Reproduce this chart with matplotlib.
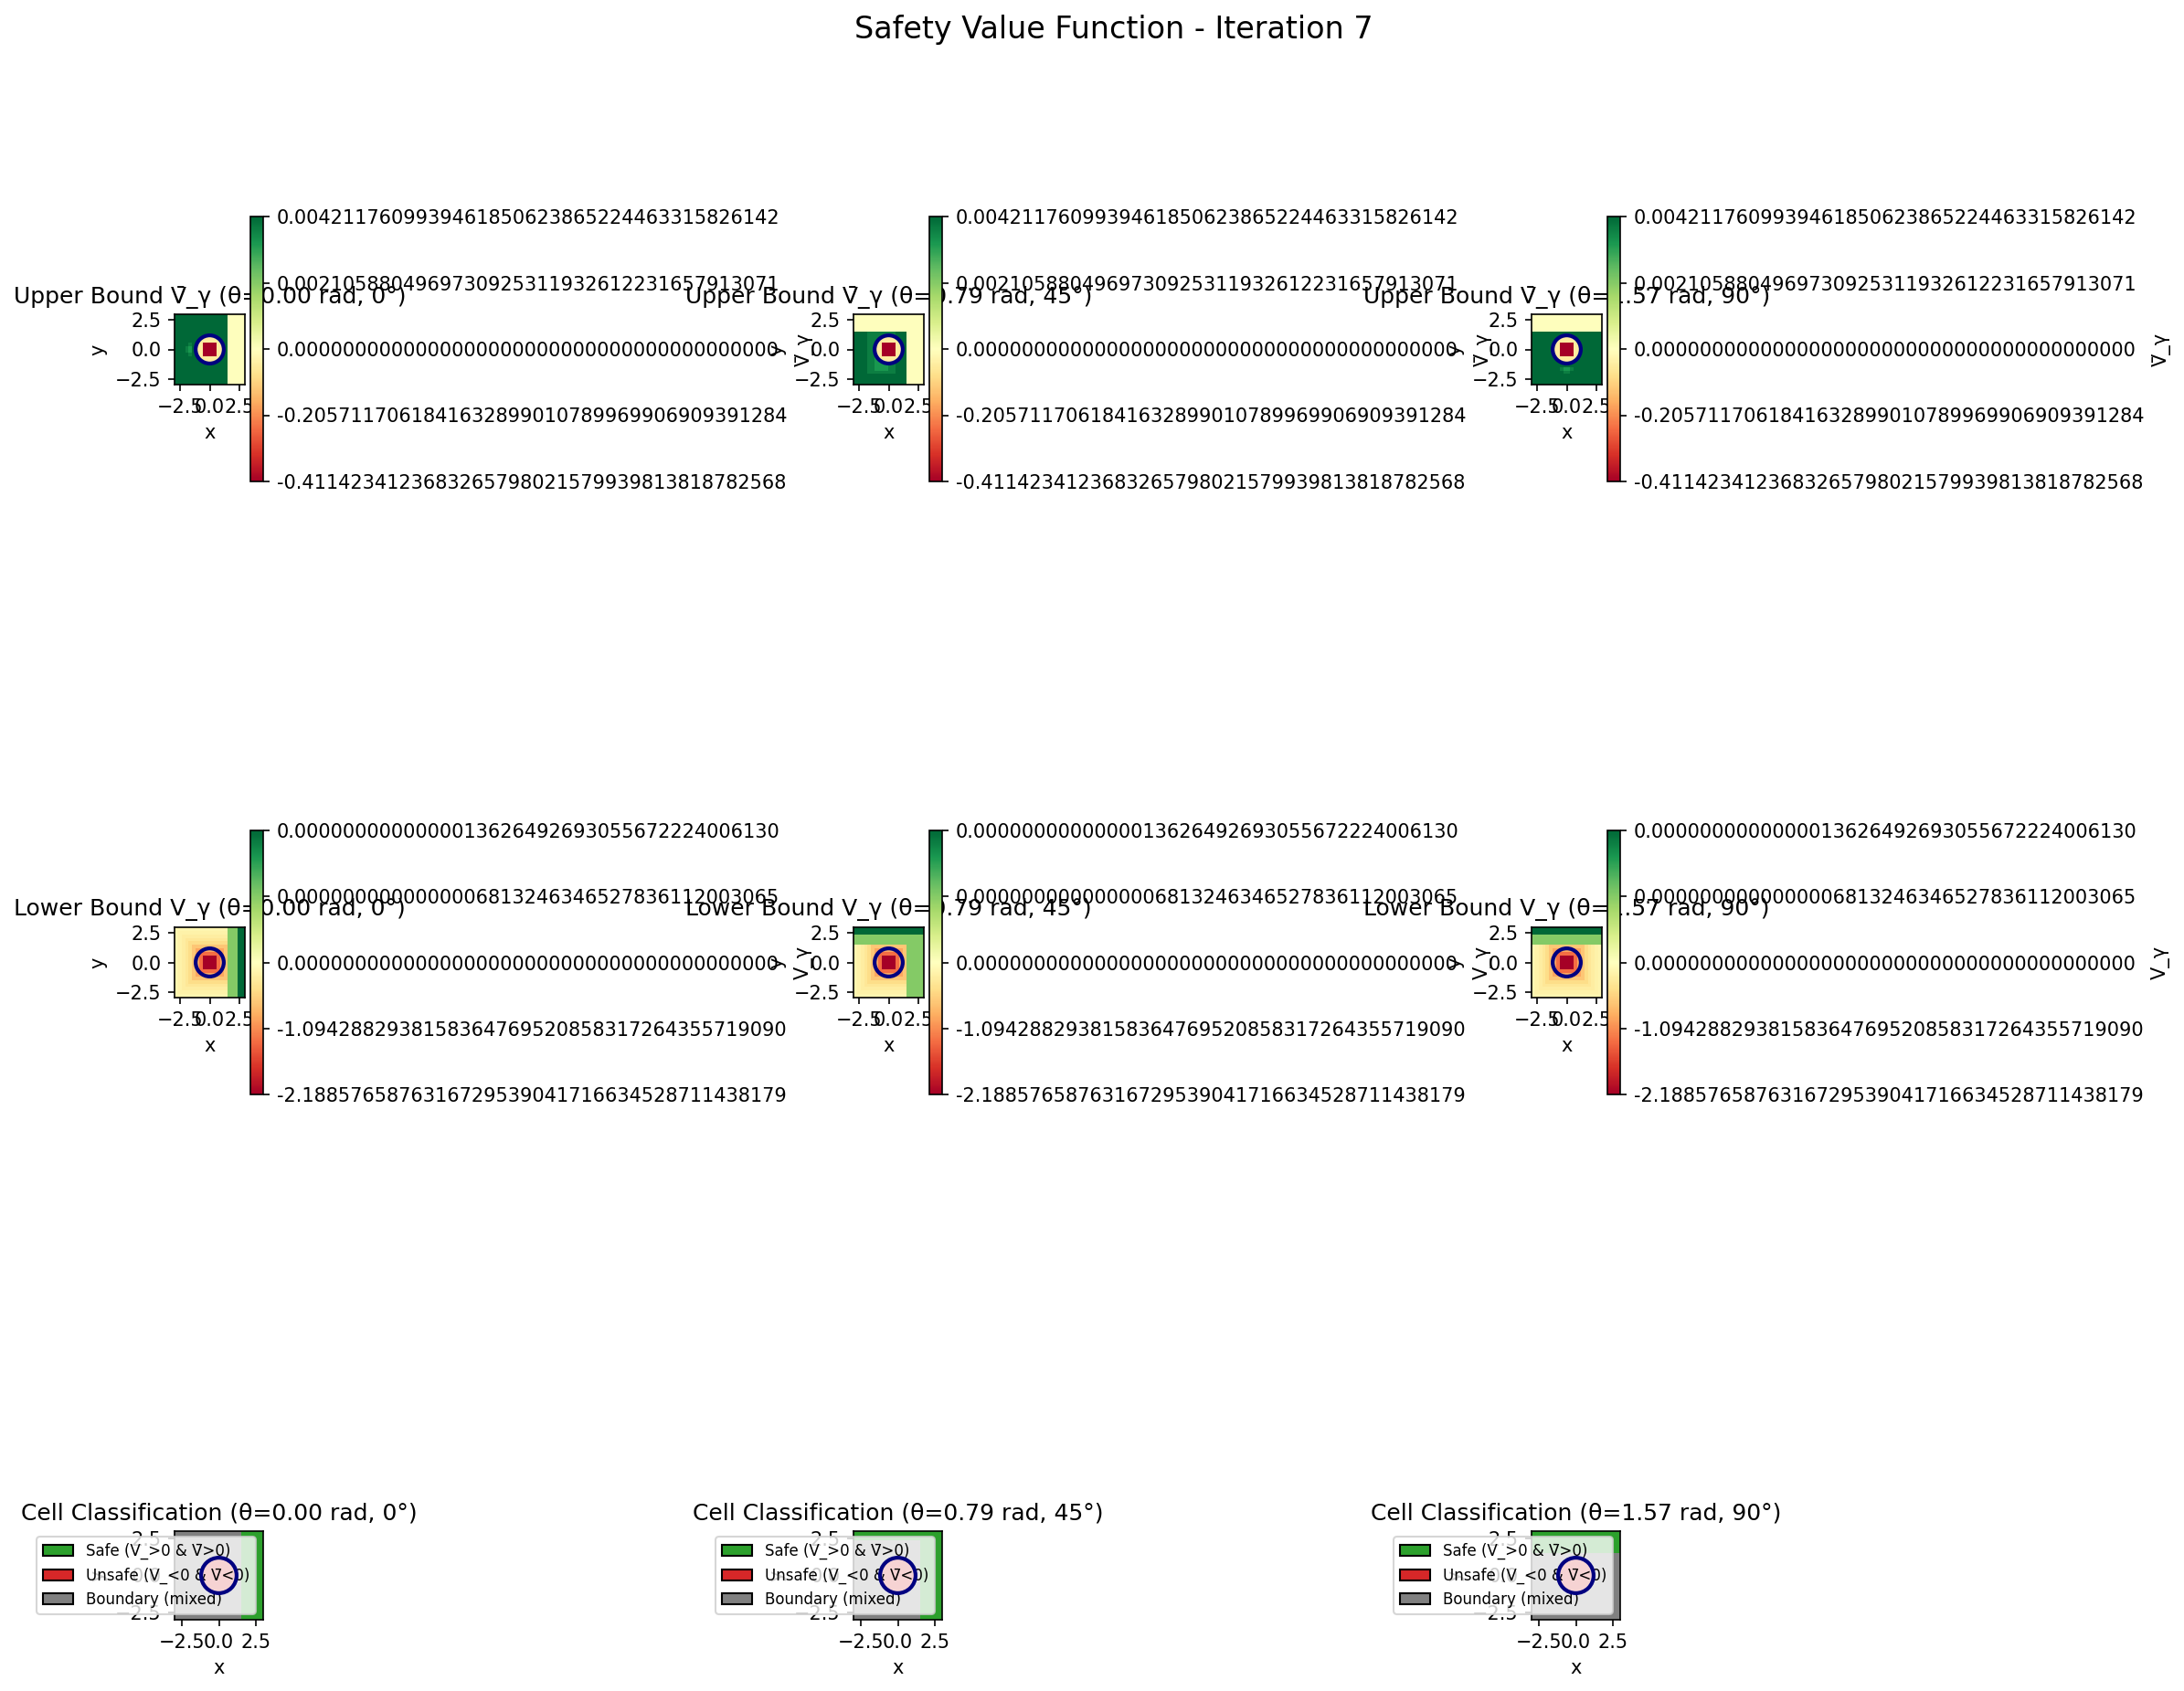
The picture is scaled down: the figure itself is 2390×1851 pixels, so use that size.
import numpy as np
import matplotlib
matplotlib.use("Agg")
import matplotlib.pyplot as plt
from matplotlib.colors import TwoSlopeNorm, ListedColormap
from matplotlib.patches import Circle, Patch

W, H = 2390, 1851
DPI = 150

# headings (theta in rad / deg) and the obstacle circle
thetas_rad = [0.00, 0.79, 1.57]
thetas_deg = [0, 45, 90]
obstacle_r = 1.2
extent = (-3, 3, -3, 3)

# colorbar ranges as printed on the colorbars
ub_min = -0.4114234123683265798021579939813818782568
ub_max = 0.0042117609939461850623865224463315826142
lb_min = -2.1885765876316729539041716634528711438179
lb_max = 0.0000000000000013626492693055672224006130

ub_ticks = [ub_min, ub_min / 2, 0.0, ub_max / 2, ub_max]
lb_ticks = [lb_min, lb_min / 2, 0.0, lb_max / 2, lb_max]

# cell levels (20x20 grid, top row first)
ub_levels = {'G': ub_max, 'h': 0.9 * ub_max, 'g': 0.8 * ub_max,
             'p': 1e-6, 'z': 0.0, 'y': -0.05, 'R': ub_min}
lb_levels = {'G': lb_max, 'l': lb_max / 2,
             '9': lb_min, '8': -1.31, '7': -0.92, '6': -0.66, '5': -0.46,
             '4': -0.33, '3': -0.24, '2': -0.175, '1': -0.13}

ub_grid_0 = [
    "GGGGGGGGGGGGGGGppppp",
    "GGGGGGGGGGGGGGGppppp",
    "GGGGGGGGGGGGGGGppppp",
    "GGGGGGGGGGGGGGGppppp",
    "GGGGGGGGGGGGGGGppppp",
    "GGGGGGGGGGGGGGGppppp",
    "GGGGGGGGyyyyGGGppppp",
    "GGGGGGGyyyyyyGGppppp",
    "GGGGhGyyRRRRyyGppppp",
    "GGGhgGyyRRRRyyGppppp",
    "GGGhgGyyRRRRyyGppppp",
    "GGGGhGyyRRRRyyGppppp",
    "GGGGGGGyyyyyyGGppppp",
    "GGGGGGGGyyyyGGGppppp",
    "GGGGGGGGGGGGGGGppppp",
    "GGGGGGGGGGGGGGGppppp",
    "GGGGGGGGGGGGGGGppppp",
    "GGGGGGGGGGGGGGGppppp",
    "GGGGGGGGGGGGGGGppppp",
    "GGGGGGGGGGGGGGGppppp",
]
ub_grid_45 = [
    "pppppppppppppppppppp",
    "pppppppppppppppppppp",
    "zzzzzzzzzzzzzzzppppp",
    "zzzzzzzzzzzzzzzppppp",
    "zzzzzzzzzzzzzzzppppp",
    "GGGGhhhhhhhhGGGppppp",
    "GGGGhhhhyyyyGGGppppp",
    "GGGGhhhyyyyyyGGppppp",
    "GGGGhhyyRRRRyyGppppp",
    "GGGGhhyyRRRRyyGppppp",
    "GGGGhhyyRRRRyyGppppp",
    "GGGGhhyyRRRRyyGppppp",
    "GGGGhhgyyyyyyGGppppp",
    "GGGGhhggyyyyGGGppppp",
    "GGGGhhgggghhGGGppppp",
    "GGGGhhgggghhGGGppppp",
    "GGGGhhhhhhhhGGGppppp",
    "GGGGGGGGGGGGGGGppppp",
    "GGGGGGGGGGGGGGGppppp",
    "GGGGGGGGGGGGGGGppppp",
]
ub_grid_90 = [
    "pppppppppppppppppppp",
    "pppppppppppppppppppp",
    "pppppppppppppppppppp",
    "pppppppppppppppppppp",
    "pppppppppppppppppppp",
    "GGGGGGGGGGGGGGGGGGGG",
    "GGGGGGGGyyyyGGGGGGGG",
    "GGGGGGGyyyyyyGGGGGGG",
    "GGGGGGyyRRRRyyGGGGGG",
    "GGGGGGyyRRRRyyGGGGGG",
    "GGGGGGyyRRRRyyGGGGGG",
    "GGGGGGyyRRRRyyGGGGGG",
    "GGGGGGGyyyyyyGGGGGGG",
    "GGGGGGGGyyyyGGGGGGGG",
    "GGGGGGGGGGGGGGGGGGGG",
    "GGGGGGGGhgghGGGGGGGG",
    "GGGGGGGGGhhGGGGGGGGG",
    "GGGGGGGGGGGGGGGGGGGG",
    "GGGGGGGGGGGGGGGGGGGG",
    "GGGGGGGGGGGGGGGGGGGG",
]
lb_grid_0 = [
    "111111111111111lllGG",
    "122222222222222lllGG",
    "123333333333333lllGG",
    "123444444444444lllGG",
    "123455555555555lllGG",
    "123456666666666lllGG",
    "123456777777776lllGG",
    "123456788888876lllGG",
    "123456789999876lllGG",
    "123456789999876lllGG",
    "123456789999876lllGG",
    "123456789999876lllGG",
    "123456788888876lllGG",
    "123456777777776lllGG",
    "123456666666666lllGG",
    "123455555555555lllGG",
    "123444444444444lllGG",
    "123333333333333lllGG",
    "122222222222222lllGG",
    "111111111111111lllGG",
]
lb_grid_45 = [
    "GGGGGGGGGGGGGGGGGGGG",
    "GGGGGGGGGGGGGGGGGGGG",
    "llllllllllllllllllll",
    "llllllllllllllllllll",
    "llllllllllllllllllll",
    "123456666666666lllll",
    "123456777777776lllll",
    "123456788888876lllll",
    "123456789999876lllll",
    "123456789999876lllll",
    "123456789999876lllll",
    "123456789999876lllll",
    "123456788888876lllll",
    "123456777777776lllll",
    "123456666666666lllll",
    "123455555555555lllll",
    "123444444444444lllll",
    "123333333333333lllll",
    "122222222222222lllll",
    "111111111111111lllll",
]
lb_grid_90 = [
    "GGGGGGGGGGGGGGGGGGGG",
    "GGGGGGGGGGGGGGGGGGGG",
    "llllllllllllllllllll",
    "llllllllllllllllllll",
    "llllllllllllllllllll",
    "12345666666666654321",
    "12345677777777654321",
    "12345678888887654321",
    "12345678999987654321",
    "12345678999987654321",
    "12345678999987654321",
    "12345678999987654321",
    "12345678888887654321",
    "12345677777777654321",
    "12345666666666654321",
    "12345555555555554321",
    "12344444444444444321",
    "12333333333333333321",
    "12222222222222222221",
    "11111111111111111111",
]

ub_grids = [ub_grid_0, ub_grid_45, ub_grid_90]
lb_grids = [lb_grid_0, lb_grid_45, lb_grid_90]


def to_array(grid, levels):
    return np.array([[levels[c] for c in row] for row in grid])


def px_axes(fig, x0, y0, x1, y1):
    return fig.add_axes([x0 / W, 1 - y1 / H, (x1 - x0) / W, (y1 - y0) / H])


col_x = [191, 934, 1676]
rows = [
    # name, label, grids, levels, vmin, vmax, ticks, image top, cbar top, cbar bottom
    ("Upper Bound", "V\u0304_\u03b3", ub_grids, ub_levels, ub_min, ub_max, ub_ticks, 344, 237, 527),
    ("Lower Bound", "V_\u03b3", lb_grids, lb_levels, lb_min, lb_max, lb_ticks, 1015, 909, 1198),
]

fig = plt.figure(figsize=(W / DPI, H / DPI), dpi=DPI)
fig.text(1218.5 / W, 1 - 42 / H, "Safety Value Function - Iteration 7",
         ha='center', va='baseline', fontsize=16)

arrays = {}
for name, label, grids, levels, vmin, vmax, ticks, top, cb_top, cb_bot in rows:
    norm = TwoSlopeNorm(vmin=vmin, vcenter=0.0, vmax=vmax)
    for k in range(3):
        data = to_array(grids[k], levels)
        arrays[(name, k)] = data
        ax = px_axes(fig, col_x[k], top, col_x[k] + 77, top + 77)
        im = ax.imshow(data, cmap='RdYlGn', norm=norm, extent=extent,
                       origin='upper', interpolation='nearest')
        ax.add_patch(Circle((0, 0), obstacle_r, fill=False, edgecolor='navy',
                            linewidth=2, zorder=10))
        ax.set_xticks([-2.5, 0, 2.5])
        ax.set_yticks([-2.5, 0, 2.5])
        ax.set_xlabel('x')
        ax.set_ylabel('y')
        ax.set_title(f"{name} {label} (\u03b8={thetas_rad[k]:.2f} rad, {thetas_deg[k]}\u00b0)")
        cax = px_axes(fig, col_x[k] + 82.5, cb_top, col_x[k] + 97, cb_bot)
        cb = fig.colorbar(im, cax=cax)
        cb.set_ticks(ticks, labels=['%.40f' % t for t in ticks])
        cb.set_label(label)

# cell classification from both bounds
class_cmap = ListedColormap(['#d62728', '#808080', '#2ca02c'])
handles = [
    Patch(facecolor='#2ca02c', edgecolor='black', label='Safe (V_>0 & V\u0304>0)'),
    Patch(facecolor='#d62728', edgecolor='black', label='Unsafe (V_<0 & V\u0304<0)'),
    Patch(facecolor='#808080', edgecolor='black', label='Boundary (mixed)'),
]
for k in range(3):
    up = arrays[("Upper Bound", k)]
    lo = arrays[("Lower Bound", k)]
    cls = np.ones(up.shape)
    cls[(lo > 0) & (up > 0)] = 2
    cls[(lo < 0) & (up < 0)] = 0
    ax = px_axes(fig, col_x[k], 1676, col_x[k] + 97, 1773)
    ax.imshow(cls, cmap=class_cmap, vmin=0, vmax=2, extent=extent,
              origin='upper', interpolation='nearest')
    ax.add_patch(Circle((0, 0), obstacle_r, fill=False, edgecolor='navy',
                        linewidth=2, zorder=10))
    ax.set_xticks([-2.5, 0, 2.5])
    ax.set_yticks([-2.5, 0, 2.5])
    ax.set_xlabel('x')
    ax.set_ylabel('y')
    ax.set_title(f"Cell Classification (\u03b8={thetas_rad[k]:.2f} rad, {thetas_deg[k]}\u00b0)")
    ax.legend(handles=handles, loc='center right', fontsize=8)

fig.savefig('out.png', dpi=DPI)
